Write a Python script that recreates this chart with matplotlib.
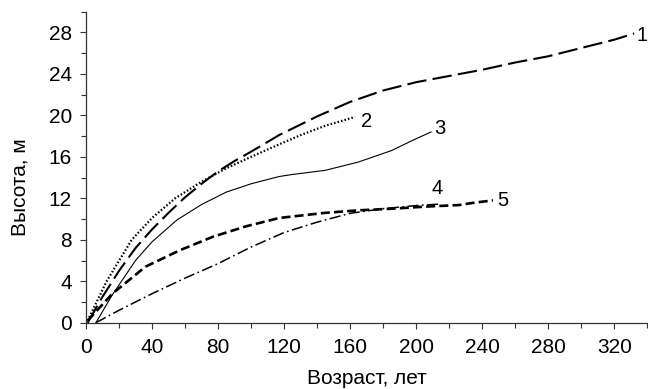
import matplotlib
matplotlib.use("Agg")
import matplotlib.pyplot as plt

plt.rcParams['font.family'] = ['Liberation Sans', 'DejaVu Sans']
plt.rcParams['lines.scale_dashes'] = False

# Curve 1
x1 = [1, 10, 20, 30, 40, 50, 60, 70, 80, 90, 100, 117, 140, 160, 180, 200, 220, 240, 260, 280, 300, 320, 332]
y1 = [0, 2.5, 5.0, 7.2, 9.0, 10.6, 12.1, 13.4, 14.6, 15.6, 16.5, 18.1, 19.9, 21.3, 22.4, 23.2, 23.8, 24.4, 25.1, 25.7, 26.5, 27.3, 27.9]
# Curve 2
x2 = [1, 12.5, 27.7, 40, 54, 70, 85, 100, 117, 130, 145, 163]
y2 = [0.2, 4.0, 8.0, 10.1, 12.0, 13.6, 14.9, 16.0, 17.2, 18.1, 19.0, 19.85]
# Curve 3
x3 = [6, 16, 30, 40, 55, 70, 85, 100, 117, 125, 145, 165, 185, 198, 209]
y3 = [0, 2.7, 6.0, 7.8, 9.9, 11.4, 12.6, 13.4, 14.1, 14.3, 14.7, 15.5, 16.6, 17.6, 18.4]
# Curve 4
x4 = [6, 20, 40, 60, 80, 100, 120, 140, 160, 180, 200, 215]
y4 = [0, 1.2, 2.8, 4.3, 5.7, 7.3, 8.7, 9.7, 10.55, 11.0, 11.3, 11.45]
# Curve 5
x5 = [1, 16, 36, 57, 77, 97, 117, 145, 166, 186, 206, 226, 234, 246.5]
y5 = [0.2, 2.8, 5.4, 7.0, 8.3, 9.3, 10.1, 10.6, 10.85, 11.0, 11.2, 11.35, 11.55, 11.8]

labels = ['1', '2', '3', '4', '5']
label_x = [336.8, 170, 214.5, 212.5, 252.7]
label_y = [27.7, 19.4, 18.75, 12.9, 11.83]

xticks = list(range(0, 321, 40))
yticks = list(range(0, 29, 4))

fig = plt.figure(figsize=(6.48, 3.89), dpi=100)
ax = fig.add_axes([86/648, 1-322.7/389, (647.3-86)/648, (322.7-11.7)/389])

ax.plot(x1, y1, color='black', lw=1.5, linestyle=(0, (14, 4.5)), dash_capstyle='butt')
ax.plot(x2, y2, color='black', lw=1.6, linestyle=(0, (1.1, 1.5)), dash_capstyle='butt')
ax.plot(x3, y3, color='black', lw=0.8, linestyle='-')
ax.plot(x4, y4, color='black', lw=1.1, linestyle=(0, (8, 2.5, 1.2, 2.5)), dash_capstyle='butt')
ax.plot(x5, y5, color='black', lw=1.9, linestyle=(0, (6.5, 3)), dash_capstyle='butt')

for t, lx, ly in zip(labels, label_x, label_y):
    ax.text(lx, ly, t, fontsize=14.5, ha='center', va='center', clip_on=False)

ax.set_xlim(0, 340)
ax.set_ylim(0, 30)
ax.set_xticks(xticks)
ax.set_xticks(list(range(0, 341, 20)), minor=True)
ax.set_yticks(yticks)
ax.set_yticks(list(range(0, 31, 2)), minor=True)
ax.tick_params(axis='both', which='major', direction='out', length=4.2, width=0.8, labelsize=15, color='#333333')
ax.tick_params(axis='both', which='minor', direction='out', length=3.6, width=0.8, color='#333333')
ax.tick_params(axis='x', which='major', pad=7)
ax.tick_params(axis='y', which='major', pad=6)
for s in ['top', 'right']:
    ax.spines[s].set_visible(False)
for s in ['left', 'bottom']:
    ax.spines[s].set_color('#333333')
    ax.spines[s].set_linewidth(0.9)

ax.set_xlabel('Возраст, лет', fontsize=15)
ax.set_ylabel('Высота, м', fontsize=15)
ax.xaxis.set_label_coords(0.5, (322.7-379)/311)
ax.xaxis.label.set_va('center')
ax.yaxis.set_label_coords((20-86)/561.3, (322.7-187.5)/311)
ax.yaxis.label.set_va('center')

fig.savefig('out.png', dpi=100)
